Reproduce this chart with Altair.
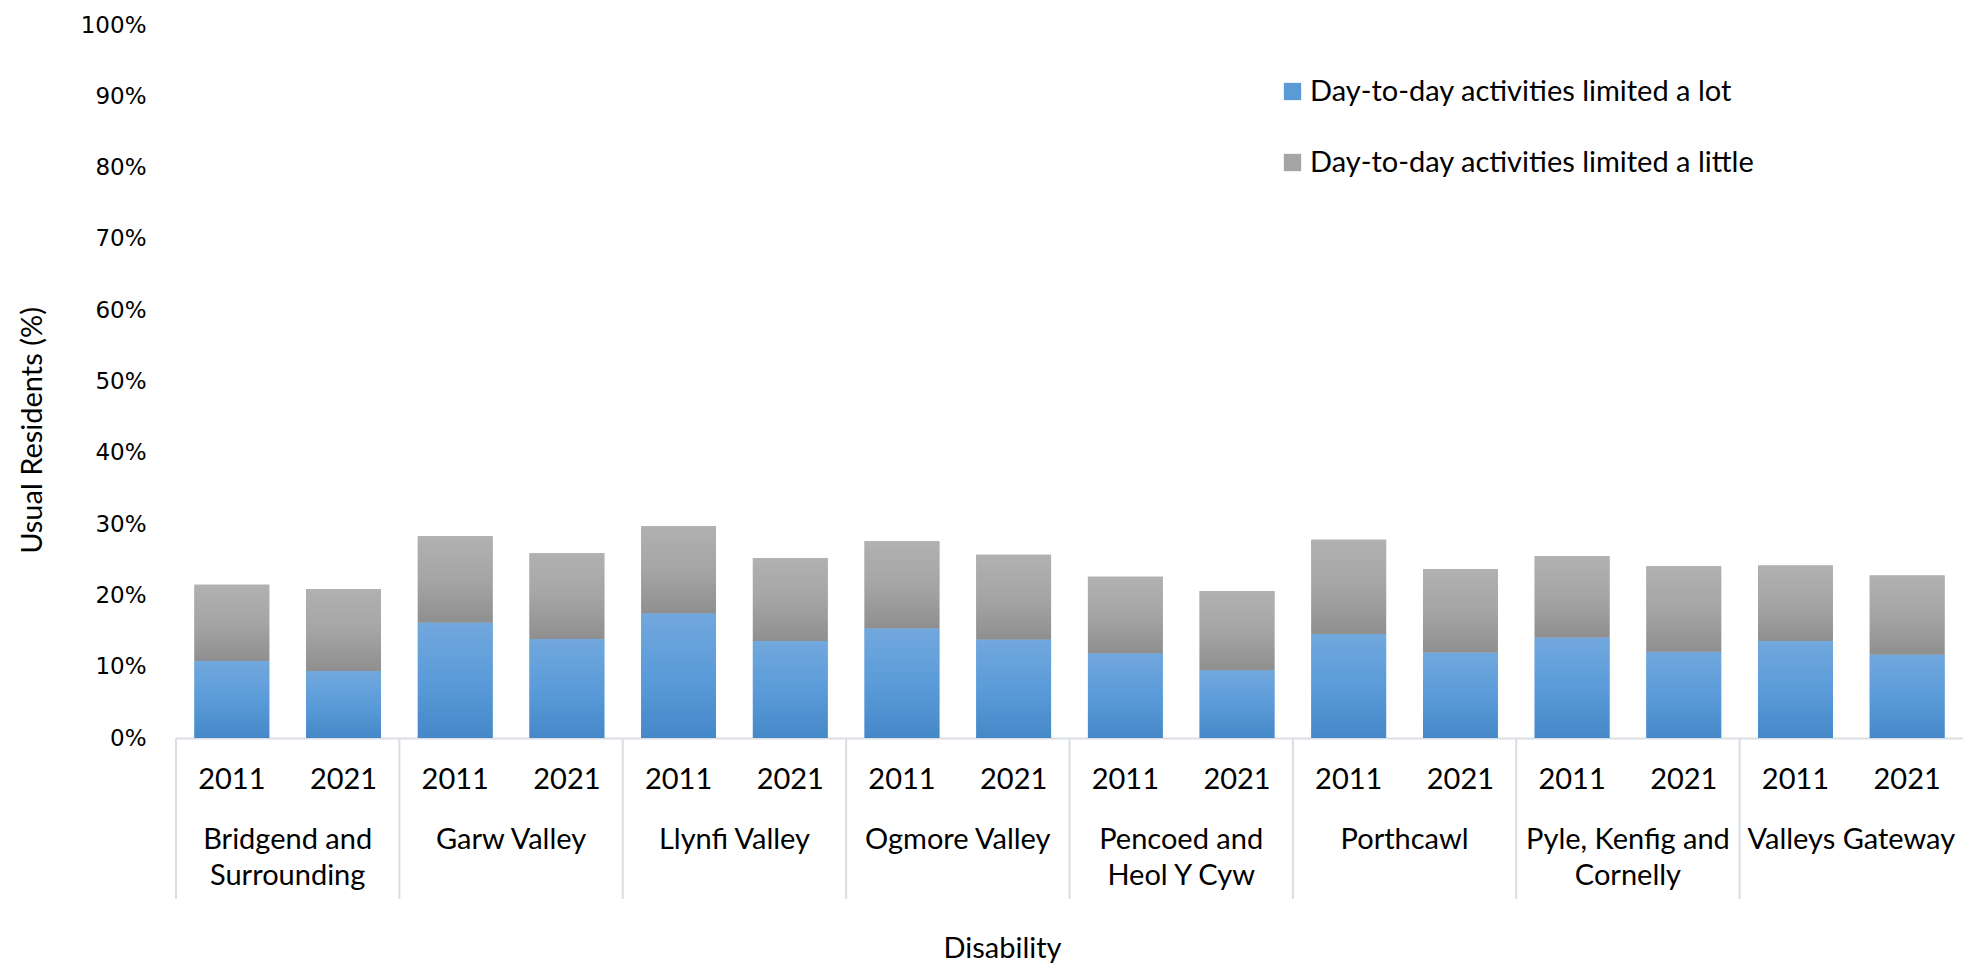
import altair as alt
import pandas as pd

regions = ["Bridgend and\nSurrounding", "Garw Valley", "Llynfi Valley", "Ogmore Valley",
           "Pencoed and\nHeol Y Cyw", "Porthcawl", "Pyle, Kenfig and\nCornelly", "Valleys Gateway"]
years = ["2011", "2021"]
# percentages, order: region by region, 2011 then 2021
limited_lot = [10.8, 9.4, 16.2, 13.9, 17.5, 13.6, 15.4, 13.8, 11.9, 9.5, 14.6, 12.0, 14.1, 12.1, 13.6, 11.7]
limited_little = [10.7, 11.5, 12.1, 12.0, 12.2, 11.6, 12.2, 11.9, 10.7, 11.1, 13.2, 11.7, 11.4, 12.0, 10.6, 11.1]
series_names = ["Day-to-day activities limited a lot", "Day-to-day activities limited a little"]
y_ticks = [0, 0.1, 0.2, 0.3, 0.4, 0.5, 0.6, 0.7, 0.8, 0.9, 1.0]

rows = []
keys = []
for ri, reg in enumerate(regions):
    for yi, yr in enumerate(years):
        i = ri * 2 + yi
        key = f"{ri}|{yr}"
        keys.append(key)
        rows.append({"key": key, "region": reg, "series": series_names[0], "ord": 0, "value": limited_lot[i] / 100})
        rows.append({"key": key, "region": reg, "series": series_names[1], "ord": 1, "value": limited_little[i] / 100})
df = pd.DataFrame(rows)
reg_df = pd.DataFrame({"region": regions})

W, H = 1787, 713
FONT = "Lato"
FS = 29
AXIS_COL = "#D9DEE4"

grad_blue = {"gradient": "linear", "x1": 0, "y1": 0, "x2": 0, "y2": 1,
             "stops": [{"offset": 0, "color": "#71A8DD"}, {"offset": 0.5, "color": "#5B9BD9"}, {"offset": 1, "color": "#4588C8"}]}
grad_gray = {"gradient": "linear", "x1": 0, "y1": 0, "x2": 0, "y2": 1,
             "stops": [{"offset": 0, "color": "#B1B1B1"}, {"offset": 0.5, "color": "#A5A5A5"}, {"offset": 1, "color": "#8F8F8F"}]}

x_enc = alt.X("key:N", sort=keys, title="Disability",
              scale=alt.Scale(paddingInner=0.33, paddingOuter=0.165),
              axis=alt.Axis(labelExpr="split(datum.label, '|')[1]", labelAngle=0, ticks=False,
                            labelPadding=27, labelFont=FONT, labelFontSize=FS, labelColor="#000000",
                            domainColor=AXIS_COL, domainWidth=2, grid=False,
                            titleFont=FONT, titleFontSize=FS, titleFontWeight="normal", titleColor="#000000",
                            titleX=826, titleY=210, titleBaseline="middle", titleAlign="center"))
y_enc = alt.Y("value:Q", stack="zero", title="Usual Residents (%)",
              scale=alt.Scale(domain=[0, 1]),
              axis=alt.Axis(values=y_ticks, format=".0%", grid=False, domain=False, ticks=False,
                            labelPadding=30, labelFont="DejaVu Sans", labelFontSize=23, labelColor="#000000",
                            titleFont=FONT, titleFontSize=FS, titleFontWeight="normal", titleColor="#000000",
                            titleX=-144, titleY=405, titleBaseline="middle", titleAlign="center"))

base = alt.Chart(df)
bars_solid = base.mark_bar().encode(
    x=x_enc, y=y_enc,
    color=alt.Color("series:N", sort=series_names,
                    scale=alt.Scale(domain=series_names, range=["#5B9BD5", "#A5A5A5"]),
                    legend=alt.Legend(title=None, orient="none", legendX=1102, legendY=52,
                                      direction="vertical", symbolType="square", symbolSize=300,
                                      symbolStrokeWidth=0, labelFont=FONT, labelFontSize=FS,
                                      labelColor="#000000", labelOffset=3, labelLimit=0,
                                      rowPadding=41, padding=0)),
    order=alt.Order("ord:Q"),
)
bars_grad = base.mark_bar().encode(
    x=x_enc, y=y_enc,
    fill=alt.condition("datum.ord == 0", alt.value(grad_blue), alt.value(grad_gray)),
    order=alt.Order("ord:Q"),
)
bars = alt.layer(bars_solid, bars_grad)

reg_scale = alt.Scale(type="band", paddingInner=0, paddingOuter=0)
rules = alt.Chart(reg_df).mark_rule(color=AXIS_COL, strokeWidth=2).encode(
    x=alt.X("region:N", sort=regions, bandPosition=0, scale=reg_scale, axis=None),
    y=alt.value(H), y2=alt.value(H + 161),
)
labels = alt.Chart(reg_df).mark_text(font=FONT, fontSize=FS, lineBreak="\n", lineHeight=36,
                                     baseline="top", align="center", color="#000000").encode(
    x=alt.X("region:N", sort=regions, bandPosition=0.5, scale=reg_scale, axis=None),
    y=alt.value(H + 88),
    text="region:N",
)

chart = alt.layer(bars, rules, labels).resolve_scale(x="independent").properties(
    width=W, height=H,
    autosize=alt.AutoSizeParams(type="none"),
    padding={"left": 168, "top": 17, "right": 0, "bottom": 230},
).configure_view(stroke=None)

chart.save("out.html", embed_options={"renderer": "svg", "actions": False})
